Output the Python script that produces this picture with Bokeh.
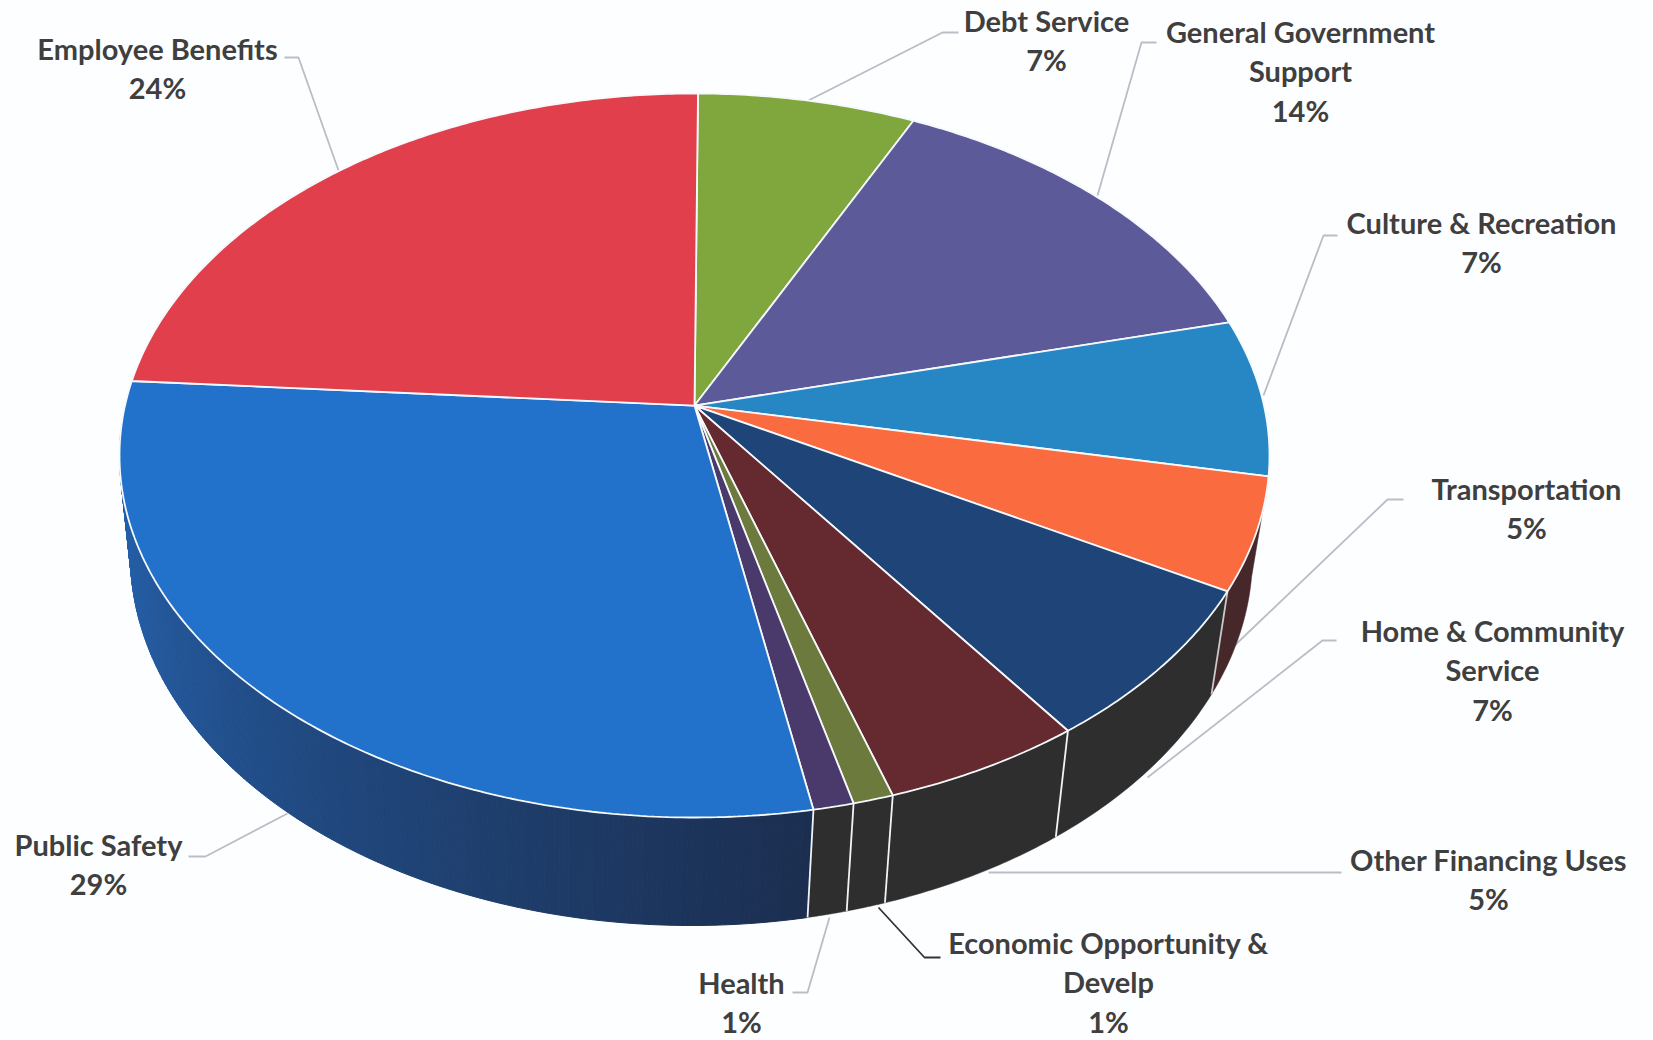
import numpy as np
from bokeh.core.properties import value
from bokeh.embed import file_html
from bokeh.models import ColumnDataSource, Range1d
from bokeh.plotting import figure
from bokeh.resources import INLINE

# Budget shares, clockwise from twelve o'clock
categories = [
    "Debt Service", "General Government\nSupport", "Culture & Recreation",
    "Transportation", "Home & Community\nService", "Other Financing Uses",
    "Economic Opportunity &\nDevelp", "Health", "Public Safety", "Employee Benefits",
]
shares = [7, 14, 7, 5, 7, 5, 1, 1, 29, 24]
top_colors = ["#80a63e", "#5d5a9a", "#2787c5", "#fb6b40", "#1f4477",
              "#652a30", "#6c7b3d", "#4a3a6b", "#2272cc", "#e23f4c"]
rim_colors = [None, None, None, "#46282a", "#2e2e2e",
              "#2e2e2e", "#2e2e2e", "#2e2e2e", None, None]

# Label anchors: centre x, first-line y
label_x = [1046, 1300, 1481, 1526, 1492, 1488, 1108, 741, 98, 157]
label_y = [20, 31, 222, 488, 630, 859, 942, 982, 844, 48]
LINE_STEP = 39.3

# Leader lines, one polyline per label
leader_x = [[958, 942, 808], [1156, 1141, 1097], [1337, 1323, 1263],
            [1403, 1387, 1232], [1336, 1322, 1147], [1341, 988],
            [940, 924, 878], [792, 807, 829], [188, 205, 287], [284, 298, 338]]
leader_y = [[32, 32, 100], [42, 42, 195], [235, 235, 395],
            [499, 499, 647], [640, 640, 777], [872, 872],
            [957, 957, 907], [992, 992, 917], [856, 856, 813], [57, 57, 170]]
leader_colors = ["#b9bdc6"] * 6 + ["#333333"] + ["#b9bdc6"] * 3

# Disc geometry on the page
TOP = dict(cx=694.0, cy=455.0, rx=575.0, ry=362.0)
BASE = dict(cx=691.0, cy=555.0, rx=561.0, ry=370.0)
TILT = 0.138       # how far the pie centre sits above the ellipse centre
ROTATION = 0.4     # degrees


def project(share, disc):
    """Perspective position of a cumulative share on a disc rim."""
    theta = np.radians(np.asarray(share, dtype=float) * 3.6 + ROTATION)
    u, v = np.sin(theta), np.cos(theta)
    den = 1 + TILT * v
    px = u * np.sqrt(1 - TILT ** 2) / den
    py = (v + TILT) / den
    return disc["cx"] + px * disc["rx"], disc["cy"] - py * disc["ry"]


def inside_top(x, y):
    return ((x - TOP["cx"]) / TOP["rx"]) ** 2 + ((y - TOP["cy"]) / TOP["ry"]) ** 2 < 1


edges = np.concatenate([[0], np.cumsum(shares)])
apex_x, apex_y = TOP["cx"], TOP["cy"] - TILT * TOP["ry"]

p = figure(width=1653, height=1040, output_backend="svg", toolbar_location=None,
           x_axis_type=None, y_axis_type=None, min_border=0,
           x_range=Range1d(0, 1653), y_range=Range1d(1040, 0),
           background_fill_color="#fdfeff", border_fill_color="#fdfeff",
           outline_line_color=None)
p.grid.visible = False

# Leader lines lie beneath the pie
p.multi_line(leader_x, leader_y, line_color=leader_colors, line_width=1.8)

# Flat-coloured rim segments
for i, color in enumerate(rim_colors):
    if color is None:
        continue
    t = np.linspace(edges[i], edges[i + 1], 40)
    tx, ty = project(t, TOP)
    bx, by = project(t, BASE)
    keep = ~inside_top(bx, by)
    xs = np.concatenate([tx, bx[keep][::-1]])
    ys = np.concatenate([ty, by[keep][::-1]])
    p.patch(xs, ys, fill_color=color, line_color=color, line_width=0.5)

# Public Safety rim, darkening towards the front
ps = categories.index("Public Safety")
rim_front = np.array([0x1b, 0x2e, 0x50])
rim_back = np.array([0x25, 0x5f, 0xa8])
strips = np.linspace(edges[ps], edges[ps + 1], 240)
strip_x, strip_y, strip_c = [], [], []
for a, b in zip(strips[:-1], strips[1:]):
    t = np.array([a, b])
    tx, ty = project(t, TOP)
    bx, by = project(t, BASE)
    if inside_top(bx.mean(), by.mean()):
        continue
    mix = min(1.0, (a - edges[ps]) / (0.82 * shares[ps]))
    rgb = rim_front + (rim_back - rim_front) * mix
    strip_x.append([tx[0], tx[1], bx[1], bx[0]])
    strip_y.append([ty[0], ty[1], by[1], by[0]])
    strip_c.append("#%02x%02x%02x" % tuple(int(round(c)) for c in rgb))
p.patches(strip_x, strip_y, fill_color=strip_c, line_color=strip_c, line_width=1)

# White seams between rim segments
seams = edges[4:9]
sx0, sy0 = project(seams, TOP)
sx1, sy1 = project(seams, BASE)
p.multi_line([[a, b] for a, b in zip(sx0, sx1)], [[a, b] for a, b in zip(sy0, sy1)],
             line_color=["#c9c9c9", "#f4f4f4", "#f4f4f4", "#f4f4f4", "#eef4fb"],
             line_width=1.8)

# Top face slices
xs, ys = [], []
for i in range(len(shares)):
    t = np.linspace(edges[i], edges[i + 1], max(6, int(shares[i] * 6)))
    ax, ay = project(t, TOP)
    xs.append([apex_x] + ax.tolist())
    ys.append([apex_y] + ay.tolist())
p.patches(xs, ys, fill_color=top_colors, line_color="#f6f9fc", line_width=1.8)

# Labels: one row per line of text, the share on the last line
rows = dict(x=[], y=[], text=[])
for name, share, x0, y0 in zip(categories, shares, label_x, label_y):
    lines = name.split("\n") + [f"{share}%"]
    for n, line in enumerate(lines):
        rows["x"].append(x0)
        rows["y"].append(y0 + n * LINE_STEP)
        rows["text"].append(line)
p.text("x", "y", text="text", source=ColumnDataSource(rows),
       text_font=value("Lato"), text_font_style="bold", text_font_size="29px",
       text_color="#3f3f3f", text_align="center", text_baseline="middle")

open("out.html", "w").write(file_html(p, INLINE))
